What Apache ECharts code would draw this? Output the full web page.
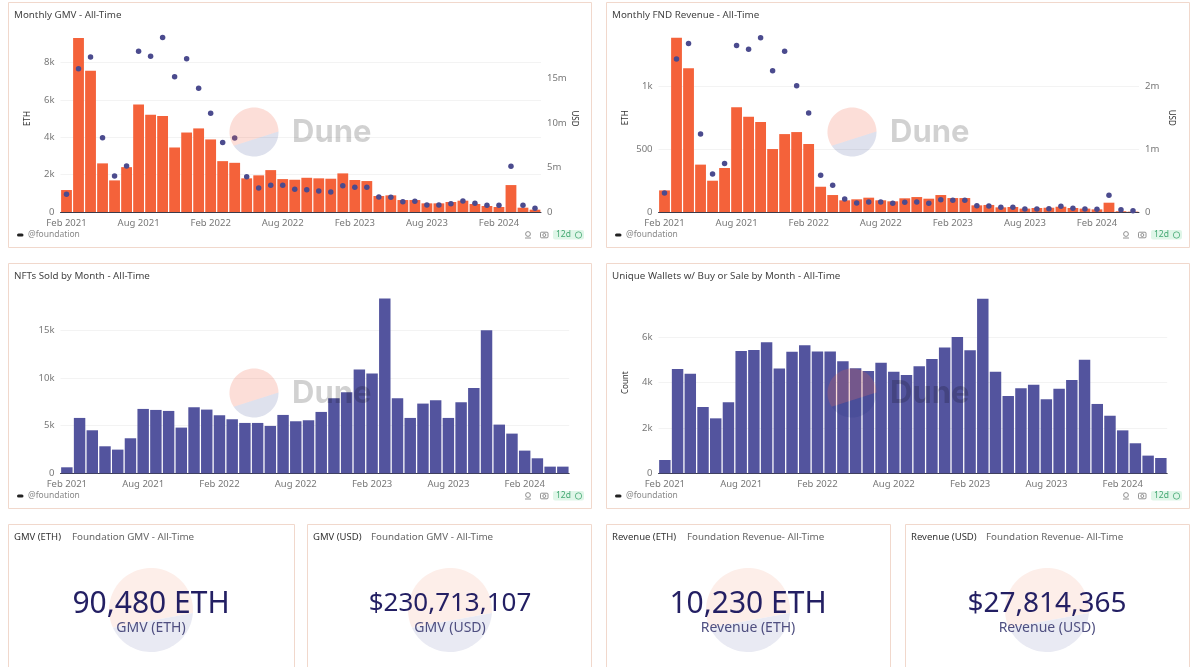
<!DOCTYPE html>
<html>
<head>
<meta charset="utf-8">
<style>html,body{margin:0;padding:0;background:#fff;overflow:hidden}#c{width:1200px;height:667px}</style>
<script src="https://cdn.jsdelivr.net/npm/echarts@6/dist/echarts.min.js"></script>
</head>
<body>
<div id="c"></div>
<script>
const months = ["Feb 2021","Mar 2021","Apr 2021","May 2021","Jun 2021","Jul 2021","Aug 2021","Sep 2021","Oct 2021","Nov 2021","Dec 2021","Jan 2022","Feb 2022","Mar 2022","Apr 2022","May 2022","Jun 2022","Jul 2022","Aug 2022","Sep 2022","Oct 2022","Nov 2022","Dec 2022","Jan 2023","Feb 2023","Mar 2023","Apr 2023","May 2023","Jun 2023","Jul 2023","Aug 2023","Sep 2023","Oct 2023","Nov 2023","Dec 2023","Jan 2024","Feb 2024","Mar 2024","Apr 2024","May 2024"];
const gmvEth = [1175,9310,7550,2600,1690,2400,5750,5200,5130,3450,4250,4470,3880,2720,2630,1800,1960,2240,1760,1725,1830,1800,1780,2065,1710,1655,855,890,640,640,463,463,534,605,427,320,267,1440,231,125];
const gmvUsd = [1.98,16.1,17.4,8.35,4.05,5.17,18.05,17.5,19.6,15.2,17.2,13.9,11.1,7.8,8.3,3.97,2.7,3.0,3.0,2.55,2.5,2.36,2.25,2.96,2.77,2.77,1.69,1.65,1.16,1.2,0.79,0.79,0.94,1.24,0.97,0.75,0.75,5.13,0.75,0.41];
const revEth = [172,1387,1143,377,249,350,833,758,716,501,620,636,541,201,135,93,101,114,93,85,109,119,106,135,111,111,53,56,37,40,27,32,34,42,32,27,21,74,6,3];
const revUsd = [0.302,2.435,2.68,1.24,0.605,0.77,2.65,2.59,2.775,2.25,2.56,2.01,1.575,0.584,0.424,0.207,0.143,0.159,0.159,0.138,0.154,0.159,0.138,0.196,0.186,0.186,0.1,0.095,0.074,0.074,0.048,0.048,0.053,0.09,0.058,0.048,0.042,0.265,0.037,0.02];
const nftsSold = [630,5810,4515,2835,2485,3675,6755,6650,6545,4795,6930,6685,6090,5670,5285,5285,4970,6125,5460,5565,6440,7875,8505,10885,10465,18340,7875,5810,7315,7665,5810,7455,8960,15015,5110,4165,2380,1575,700,700];
const wallets = [588,4600,4395,2925,2425,3130,5395,5440,5780,4620,5365,5645,5380,5380,4940,4630,4515,4880,4485,4335,4720,5040,5555,6010,5425,7700,4485,3410,3750,3910,3265,3735,4115,5010,3060,2540,1895,1325,780,675];
const chartTitles = ["Monthly GMV - All-Time","Monthly FND Revenue - All-Time","NFTs Sold by Month - All-Time","Unique Wallets w/ Buy or Sale by Month - All-Time"];
const kpiHeads = ["GMV (ETH)","GMV (USD)","Revenue (ETH)","Revenue (USD)"];
const kpiSubs = ["Foundation GMV - All-Time","Foundation GMV - All-Time","Foundation Revenue- All-Time","Foundation Revenue- All-Time"];
const kpiValues = ["90,480 ETH","$230,713,107","10,230 ETH","$27,814,365"];

const FONT = '"Noto Sans", "Open Sans", sans-serif';
const ORANGE = '#f4623a', INDIGO = '#53549e', DOT = '#4b4b8e', BORDER = '#f1d8cc';
const k = v => v === 0 ? '0' : (v / 1000) + 'k';
const m = v => v === 0 ? '0' : (v / 1e6) + 'm';

const grids = [
  {left: 60.5, top: 25, width: 480.5, height: 187},
  {left: 658.5, top: 23.5, width: 480.5, height: 188.5},
  {left: 60.5, top: 282.7, width: 508.7, height: 190.6},
  {left: 658.5, top: 292, width: 508.7, height: 181.3}
];
const xAxes = grids.map((g, i) => ({
  type: 'category', gridIndex: i, data: months,
  axisTick: {show: false},
  axisLine: {lineStyle: {color: '#3a3a4a', width: 1}},
  axisLabel: {interval: 5, color: '#777', fontFamily: FONT, fontSize: 9.5, margin: 6}
}));
function leftAxis(i, max, interval, fmt, name) {
  return {
    type: 'value', gridIndex: i, min: 0, max, interval,
    name: name || '', nameLocation: 'middle', nameRotate: 90, nameGap: 29,
    nameTextStyle: {color: '#333', fontFamily: FONT, fontSize: 8},
    axisLine: {show: false}, axisTick: {show: false},
    axisLabel: {color: '#777', fontFamily: FONT, fontSize: 9.5, margin: 6, showMaxLabel: false, formatter: fmt},
    splitLine: {show: true, showMaxLine: false, showMinLine: false, lineStyle: {color: '#f3f3f3', width: 1}}
  };
}
function rightAxis(i, max, interval, shown) {
  return {
    type: 'value', gridIndex: i, position: 'right', min: 0, max, interval,
    name: 'USD', nameLocation: 'middle', nameRotate: -90, nameGap: 28,
    nameTextStyle: {color: '#333', fontFamily: FONT, fontSize: 8},
    axisLine: {show: false}, axisTick: {show: false}, splitLine: {show: false},
    axisLabel: {color: '#777', fontFamily: FONT, fontSize: 9.5, margin: 6, showMaxLabel: false,
      formatter: v => v > shown ? '' : m(v)}
  };
}
const yAxes = [
  leftAxis(0, 10000, 2000, k, 'ETH'),
  rightAxis(0, 21e6, 5e6, 15e6),
  leftAxis(1, 1500, 500, v => v >= 1000 ? k(v) : String(v), 'ETH'),
  rightAxis(1, 3e6, 1e6, 2e6),
  leftAxis(2, 20000, 5000, k),
  leftAxis(3, 8000, 2000, k, 'Count')
];
function bar(i, yi, data, color) {
  return {type: 'bar', xAxisIndex: i, yAxisIndex: yi, data, barWidth: '90%',
    itemStyle: {color}, silent: true, z: 2};
}
function dots(i, yi, data, scale) {
  return {type: 'scatter', xAxisIndex: i, yAxisIndex: yi, data: data.map(v => v * scale),
    symbolSize: 5.5, itemStyle: {color: DOT, opacity: 1}, silent: true, z: 3};
}
const series = [
  bar(0, 0, gmvEth, ORANGE), dots(0, 1, gmvUsd, 1e6),
  bar(1, 2, revEth, ORANGE), dots(1, 3, revUsd, 1e6),
  bar(2, 4, nftsSold, INDIGO),
  bar(3, 5, wallets, INDIGO)
];

function arcPoints(cx, cy, r, a0, a1) {
  const pts = [], n = 48;
  for (let j = 0; j <= n; j++) {
    const a = (a0 + (a1 - a0) * j / n) * Math.PI / 180;
    pts.push([cx + r * Math.cos(a), cy + r * Math.sin(a)]);
  }
  return pts;
}
function disc(cx, cy, r, top, bottom, z, a, b) {
  return [
    {type: 'polygon', z, silent: true, shape: {points: arcPoints(cx, cy, r, b, 360 + a)}, style: {fill: top}},
    {type: 'polygon', z, silent: true, shape: {points: arcPoints(cx, cy, r, a, b)}, style: {fill: bottom}}
  ];
}
function txt(x, y, text, size, fill, extra) {
  return {type: 'text', x, y, z: 12, silent: true,
    style: Object.assign({text, fontSize: size, fill, fontFamily: FONT, textVerticalAlign: 'middle', verticalAlign: 'middle'}, extra || {})};
}
const gfx = [];
function panel(x0, y0, x1, y1) {
  gfx.push({type: 'rect', z: 0, silent: true, shape: {x: x0, y: y0, width: x1 - x0, height: y1 - y0},
    style: {fill: '#fff', stroke: BORDER, lineWidth: 1}});
}
function chartPanel(i, x0, y0, x1, y1, wx, wy, footY) {
  panel(x0, y0, x1, y1);
  gfx.push(txt(x0 + 5.5, y0 + 13, chartTitles[i], 9.8, '#444'));
  gfx.push(...disc(wx, wy, 24.5, 'rgba(240,100,70,0.21)', 'rgba(20,40,130,0.14)', 10, -1, 146));
  gfx.push(txt(wx + 38, wy + 1, 'Dune', 31, 'rgba(0,0,0,0.18)', {fontWeight: 'bold', fontFamily: 'Inter, ' + FONT}));
  gfx.push({type: 'rect', z: 12, silent: true, shape: {x: x0 + 8.5, y: footY - 1, width: 6.5, height: 3, r: 1.5}, style: {fill: '#222'}});
  gfx.push(txt(x0 + 19.5, footY + 0.5, '@foundation', 8.5, '#888'));
  const bx = x1 - 38.5;
  gfx.push({type: 'rect', z: 12, silent: true, shape: {x: bx, y: footY - 4.5, width: 31, height: 9.5, r: 2}, style: {fill: '#dff6e8'}});
  gfx.push(txt(bx + 3, footY + 0.5, '12d', 8.5, '#45a873'));
  gfx.push({type: 'circle', z: 12, silent: true, shape: {cx: bx + 25.5, cy: footY + 0.5, r: 3.2}, style: {fill: 'none', stroke: '#45a873', lineWidth: 0.8}});
  gfx.push({type: 'rect', z: 12, silent: true, shape: {x: bx - 12.5, y: footY - 2.3, width: 7.5, height: 5.6, r: 1}, style: {fill: 'none', stroke: '#777', lineWidth: 0.8}});
  gfx.push({type: 'circle', z: 12, silent: true, shape: {cx: bx - 8.7, cy: footY + 0.5, r: 1.5}, style: {fill: 'none', stroke: '#777', lineWidth: 0.8}});
  gfx.push({type: 'circle', z: 12, silent: true, shape: {cx: bx - 25, cy: footY - 0.5, r: 2.4}, style: {fill: 'none', stroke: '#777', lineWidth: 0.8}});
  gfx.push({type: 'line', z: 12, silent: true, shape: {x1: bx - 28, y1: footY + 3.5, x2: bx - 22, y2: footY + 3.5}, style: {stroke: '#777', lineWidth: 0.8}});
}
chartPanel(0, 8.5, 2.5, 591.5, 247.5, 254, 132, 234.5);
chartPanel(1, 606.5, 2.5, 1189.5, 247.5, 852, 132, 234.5);
chartPanel(2, 8.5, 263.5, 591.5, 508.5, 254, 393, 495.5);
chartPanel(3, 606.5, 263.5, 1189.5, 508.5, 852, 393, 495.5);

const kpiBox = [[8.5, 294.5, 151], [307.5, 591.5, 450], [606.5, 890.5, 748], [905.5, 1189.5, 1047]];
const kpiSizes = [30, 26, 30, 28];
kpiBox.forEach((b, i) => {
  panel(b[0], 524.5, b[1], 700);
  const headW = [58, 58, 75, 75][i];
  gfx.push(txt(b[0] + 5.5, 537, kpiHeads[i], 9.5, '#333'));
  gfx.push(txt(b[0] + 5.5 + headW, 537, kpiSubs[i], 9.8, '#666'));
  gfx.push(...disc(b[2], 610, 42, '#fdeee9', '#e9eaf3', 1, 4, 155));
  gfx.push(txt(b[2], 604, kpiValues[i], kpiSizes[i], '#231f63', {align: 'center', textAlign: 'center'}));
  gfx.push(txt(b[2], 628, kpiHeads[i], 14, '#4f4f80', {align: 'center', textAlign: 'center'}));
});

const chart = echarts.init(document.getElementById('c'), null, {renderer: 'canvas'});
chart.setOption({
  animation: false, backgroundColor: '#fff',
  grid: grids, xAxis: xAxes, yAxis: yAxes, series, graphic: {elements: gfx}
});
</script>
</body>
</html>
